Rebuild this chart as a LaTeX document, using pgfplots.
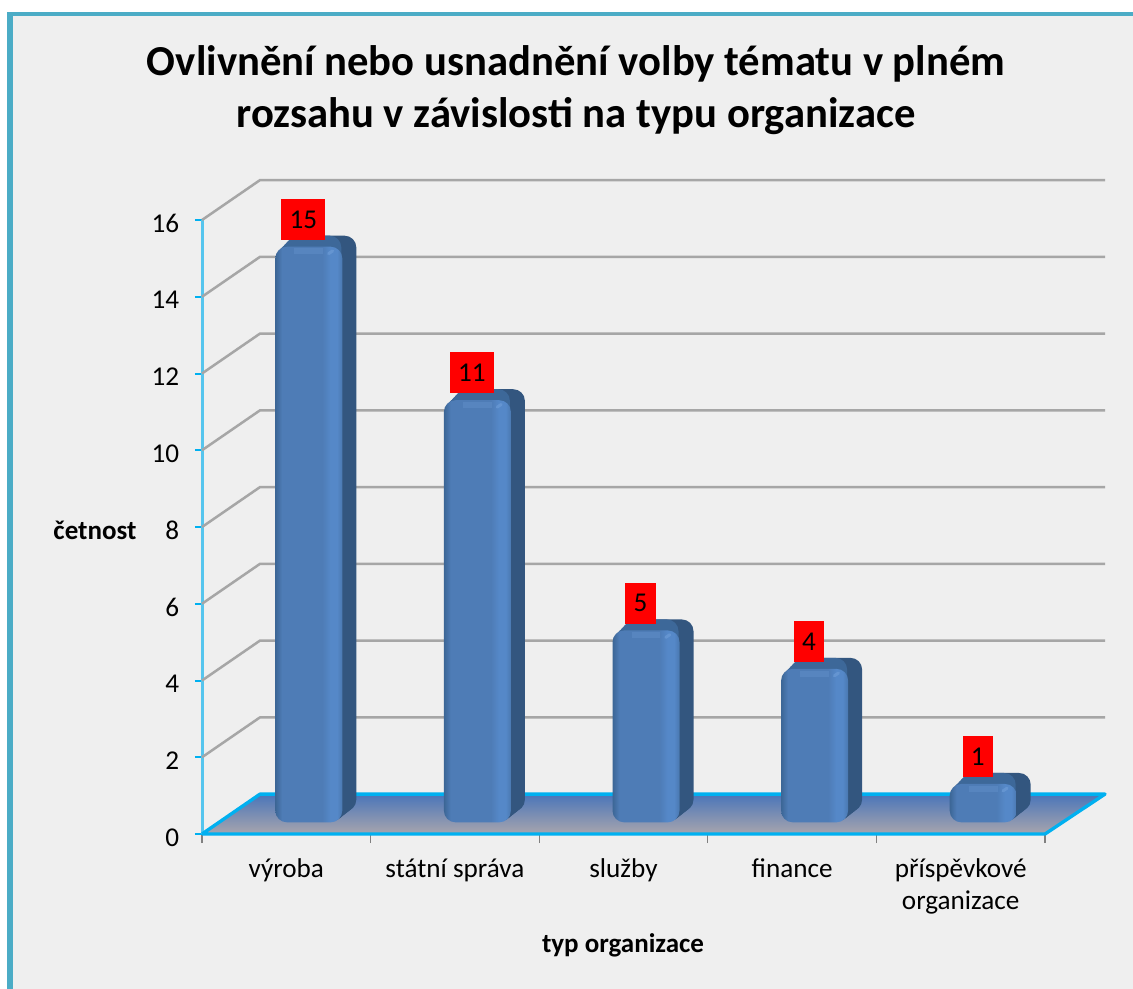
\documentclass[border=0pt]{standalone}
\usepackage{pgfplots}
\usepackage{pgfplotstable}
\usepackage{fontspec}
\setmainfont{Carlito}
\pgfplotsset{compat=1.18}
\definecolor{bgc}{HTML}{EFEFEF}
\definecolor{framec}{HTML}{4BACC6}
\definecolor{cyanx}{HTML}{00B0F0}
\definecolor{cyany}{HTML}{55C5EE}
\definecolor{gridc}{HTML}{A6A6A6}
\definecolor{floorA}{HTML}{4A75B9}
\definecolor{floorB}{HTML}{A8A5AD}
\definecolor{ext}{HTML}{33567F}
\definecolor{topc}{HTML}{3D6899}
\definecolor{c1}{HTML}{3C6696}
\definecolor{c2}{HTML}{4E7CB6}
\definecolor{c3}{HTML}{5588C8}
\definecolor{c4}{HTML}{4A78B0}
\definecolor{hi}{HTML}{6C9BD6}
\pgfdeclarehorizontalshading{barfront}{100bp}{color(0bp)=(c1); color(25bp)=(c1); color(30bp)=(c2); color(60bp)=(c2); color(66bp)=(c3); color(71bp)=(c3); color(75bp)=(c4); color(100bp)=(c4)}
\pgfplotstableread{
idx val
0 15
1 11
2 5
3 4
4 1
}\datatab
\newcommand\layer[4]{\addplot[ybar,bar width=#1,bar shift=#2,yshift=#3,draw=none,fill=#4,rounded corners=7pt] table[x=idx,y=val]{\datatab};}
\newcommand\frontbar[2]{%
  \addplot[ybar,bar width=40.2pt,bar shift=13.5pt,yshift=7pt,draw=none,shading=barfront,shade,rounded corners=7pt] coordinates {(#1,#2)};
  \addplot[hi,opacity=0.3,line width=3.6pt,xshift=13.5pt,yshift=4.2pt] coordinates {(#1-0.085,#2)(#1+0.085,#2)};
  \addplot[hi,opacity=0.7,line width=1.8pt,line cap=round,xshift=26.6pt,yshift=4pt] coordinates {(#1-0.012,#2-0.05)(#1+0.012,#2+0.02)};
}
\begin{document}
\begin{tikzpicture}
\path[use as bounding box] (0,0) rectangle (679.8pt,-593.4pt);
\fill[white] (0,0) rectangle (679.8pt,-593.4pt);
\fill[framec] (4.2pt,-7.2pt) rectangle (679.8pt,-593.4pt);
\fill[bgc] (7.8pt,-9.6pt) rectangle (679.8pt,-593.4pt);
\begin{axis}[
  at={(121.2pt,-500.4pt)},anchor=south west,
  scale only axis,width=505.8pt,height=368.4pt,
  xmin=-0.5,xmax=4.5,ymin=0,ymax=16,
  clip=false,
  axis lines*=left,
  x axis line style={draw=none,-},
  y axis line style={draw=cyany,line width=1.8pt,-},
  ytick={0,2,...,16},
  xtick={0,1,2,3,4},
  xticklabels={výroba,státní správa,služby,finance,{příspěvkové\\organizace}},
  minor xtick={-0.5,0.5,1.5,2.5,3.5,4.5},
  major x tick style={draw=none},
  minor x tick style={draw=gray,line width=0.8pt},
  minor tick length=5.4pt,
  ytick style={draw=cyanx,line width=1.2pt},
  major tick length=4.2pt,
  tick align=outside,
  /pgf/number format/assume math mode=true,
  tick label style={font=\fontsize{16.3}{19.2}\selectfont,text=black},
  x tick label style={align=center,yshift=-7pt},
  y tick label style={xshift=-6pt,yshift=-2pt},
  title={Ovlivnění nebo usnadnění volby tématu v plném\\rozsahu v závislosti na typu organizace},
  title style={at={(axis description cs:0.4437,1.195)},anchor=center,align=center,font=\fontsize{25.6}{31.2}\selectfont\bfseries},
  xlabel={typ organizace},
  ylabel={četnost},
  every axis x label/.style={at={(axis description cs:0.4994,-0.182)},anchor=center,font=\fontsize{16.2}{19}\selectfont\bfseries},
  every axis y label/.style={at={(axis description cs:-0.127,0.495)},anchor=center,font=\fontsize{16.2}{19}\selectfont\bfseries},
]
% back wall grid
\addplot[gridc,line width=1.5pt,line join=round] coordinates {(-0.5,2)(-0.156,3.04)(4.856,3.04)};
\addplot[gridc,line width=1.5pt,line join=round] coordinates {(-0.5,4)(-0.156,5.04)(4.856,5.04)};
\addplot[gridc,line width=1.5pt,line join=round] coordinates {(-0.5,6)(-0.156,7.04)(4.856,7.04)};
\addplot[gridc,line width=1.5pt,line join=round] coordinates {(-0.5,8)(-0.156,9.04)(4.856,9.04)};
\addplot[gridc,line width=1.5pt,line join=round] coordinates {(-0.5,10)(-0.156,11.04)(4.856,11.04)};
\addplot[gridc,line width=1.5pt,line join=round] coordinates {(-0.5,12)(-0.156,13.04)(4.856,13.04)};
\addplot[gridc,line width=1.5pt,line join=round] coordinates {(-0.5,14)(-0.156,15.04)(4.856,15.04)};
\addplot[gridc,line width=1.5pt,line join=round] coordinates {(-0.5,16)(-0.156,17.04)(4.856,17.04)};
% floor
\addplot[top color=floorA,bottom color=floorB,draw=cyanx,line width=2pt,line join=round] coordinates {(-0.5,0)(-0.156,1.04)(4.856,1.04)(4.5,0)(-0.5,0)};
% bars: extrusion layers, top face, front
\layer{40.2pt}{21.9pt}{13.6pt}{ext}
\layer{40.2pt}{20.7pt}{12.66pt}{ext}
\layer{40.2pt}{19.5pt}{11.7pt}{ext}
\layer{40.2pt}{18.3pt}{10.8pt}{ext}
\layer{40.2pt}{17.1pt}{9.83pt}{ext}
\layer{40.2pt}{15.9pt}{8.9pt}{ext}
\layer{40.2pt}{14.7pt}{7.9pt}{ext}
\layer{33pt}{16.5pt}{13.6pt}{topc}
\layer{33pt}{15pt}{12pt}{topc}
\layer{33pt}{13.5pt}{10.4pt}{topc}
\layer{33pt}{12pt}{8.8pt}{topc}
\frontbar{0}{15}
\frontbar{1}{11}
\frontbar{2}{5}
\frontbar{3}{4}
\frontbar{4}{1}
% value labels
\addplot[draw=none,mark=none,nodes near coords,point meta=y,
  every node near coord/.append style={fill=red,text=black,anchor=center,xshift=10.2pt,yshift=23.4pt,
    minimum height=24.6pt,inner xsep=4.9pt,inner ysep=0pt,font=\fontsize{16.3}{18}\selectfont}]
  table[x=idx,y=val]{\datatab};
\end{axis}
\end{tikzpicture}
\end{document}
